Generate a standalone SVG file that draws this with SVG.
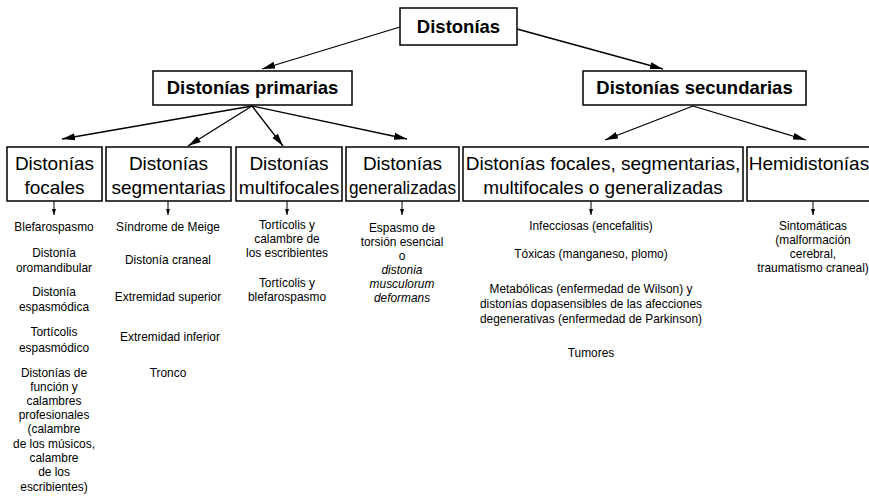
<svg xmlns="http://www.w3.org/2000/svg" width="869" height="500" viewBox="0 0 869 500">
<defs>
<marker id="ah" markerUnits="userSpaceOnUse" markerWidth="14" markerHeight="8" refX="13" refY="4" orient="auto">
<path d="M0,0.5 L13,4 L0,7.5 z" fill="#000"/>
</marker>
<marker id="sh" markerUnits="userSpaceOnUse" markerWidth="6" markerHeight="5" refX="6" refY="2.5" orient="auto">
<path d="M0,0.5 L6,2.5 L0,4.5 z" fill="#000"/>
</marker>
</defs>
<style>
.box{fill:#fff;stroke:#000;stroke-width:1.5}
.t1{font-family:"Liberation Sans",Arial,sans-serif;font-weight:bold;font-size:18.5px;text-anchor:middle;fill:#000}
.t2{font-family:"Liberation Sans",Arial,sans-serif;font-size:19px;text-anchor:middle;fill:#000}
.t3{font-family:"Liberation Sans",Arial,sans-serif;font-size:11.9px;text-anchor:middle;fill:#000}
.it{font-style:italic}
.c{stroke:#000;stroke-width:1.3;fill:none}
.big{marker-end:url(#ah)}
.sm{stroke-width:1;marker-end:url(#sh)}
</style>
<rect width="869" height="500" fill="#fff"/>
<g id="connectors">
<line class="c big" x1="400" y1="27" x2="262" y2="69"/>
<line class="c big" x1="517" y1="29" x2="663" y2="69"/>
<line class="c big" x1="252" y1="106" x2="62" y2="139"/>
<line class="c big" x1="252" y1="106" x2="188" y2="146"/>
<line class="c big" x1="252" y1="106" x2="283" y2="146"/>
<line class="c big" x1="252" y1="106" x2="407" y2="139"/>
<line class="c big" x1="693" y1="106" x2="605" y2="140"/>
<line class="c big" x1="693" y1="106" x2="806" y2="140"/>
<line class="c sm" x1="54" y1="201" x2="54" y2="215"/>
<line class="c sm" x1="168" y1="201" x2="168" y2="215"/>
<line class="c sm" x1="287" y1="201" x2="287" y2="215"/>
<line class="c sm" x1="402" y1="201" x2="402" y2="215"/>
<line class="c sm" x1="591" y1="201" x2="591" y2="215"/>
<line class="c sm" x1="813" y1="201" x2="813" y2="215"/>
</g>
<g id="root">
<rect class="box" x="400" y="8" width="117" height="37"/>
<text class="t1" x="458.5" y="33">Distonías</text>
</g>
<g id="primarias">
<rect class="box" x="153" y="71" width="199" height="34"/>
<text class="t1" x="252.5" y="94">Distonías primarias</text>
</g>
<g id="secundarias">
<rect class="box" x="583" y="71" width="223" height="34"/>
<text class="t1" x="694.5" y="94">Distonías secundarias</text>
</g>
<g id="focales">
<rect class="box" x="7" y="147" width="95" height="54"/>
<text class="t2" x="54.5" y="170">Distonías</text>
<text class="t2" x="54.5" y="194">focales</text>
<text class="t3" x="54" y="231">Blefarospasmo</text>
<text class="t3" x="54" y="257">Distonía</text>
<text class="t3" x="54" y="272">oromandibular</text>
<text class="t3" x="54" y="296">Distonía</text>
<text class="t3" x="54" y="311">espasmódica</text>
<text class="t3" x="54" y="336">Tortícolis</text>
<text class="t3" x="54" y="352">espasmódico</text>
<text class="t3" x="54" y="377">Distonías de</text>
<text class="t3" x="54" y="391">función y</text>
<text class="t3" x="54" y="405">calambres</text>
<text class="t3" x="54" y="419">profesionales</text>
<text class="t3" x="54" y="433">(calambre</text>
<text class="t3" x="54" y="448">de los músicos,</text>
<text class="t3" x="54" y="462">calambre</text>
<text class="t3" x="54" y="476">de los</text>
<text class="t3" x="54" y="491">escribientes)</text>
</g>
<g id="segmentarias">
<rect class="box" x="106" y="147" width="125" height="54"/>
<text class="t2" x="168.5" y="170">Distonías</text>
<text class="t2" x="168.5" y="194">segmentarias</text>
<text class="t3" x="168" y="231">Síndrome de Meige</text>
<text class="t3" x="168" y="264">Distonía craneal</text>
<text class="t3" x="168" y="301">Extremidad superior</text>
<text class="t3" x="170" y="341">Extremidad inferior</text>
<text class="t3" x="168" y="377">Tronco</text>
</g>
<g id="multifocales">
<rect class="box" x="236" y="147" width="106" height="54"/>
<text class="t2" x="289" y="170">Distonías</text>
<text class="t2" x="289" y="194">multifocales</text>
<text class="t3" x="287" y="229">Tortícolis y</text>
<text class="t3" x="287" y="243">calambre de</text>
<text class="t3" x="287" y="257">los escribientes</text>
<text class="t3" x="287" y="287">Tortícolis y</text>
<text class="t3" x="287" y="301">blefarospasmo</text>
</g>
<g id="generalizadas">
<rect class="box" x="346" y="147" width="113" height="54"/>
<text class="t2" x="402.5" y="170">Distonías</text>
<text class="t2" x="402.5" y="194" textLength="107" lengthAdjust="spacingAndGlyphs">generalizadas</text>
<text class="t3" x="402" y="232">Espasmo de</text>
<text class="t3" x="402" y="246">torsión esencial</text>
<text class="t3" x="402" y="260">o</text>
<text class="t3 it" x="402" y="274">distonia</text>
<text class="t3 it" x="402" y="288">musculorum</text>
<text class="t3 it" x="402" y="302">deformans</text>
</g>
<g id="focales-seg">
<rect class="box" x="463" y="147" width="280" height="54"/>
<text class="t2" x="603" y="170">Distonías focales, segmentarias,</text>
<text class="t2" x="603" y="194">multifocales o generalizadas</text>
<text class="t3" x="591" y="230">Infecciosas (encefalitis)</text>
<text class="t3" x="591" y="258">Tóxicas (manganeso, plomo)</text>
<text class="t3" x="591" y="293">Metabólicas (enfermedad de Wilson) y</text>
<text class="t3" x="591" y="308">distonías dopasensibles de las afecciones</text>
<text class="t3" x="591" y="323">degenerativas (enfermedad de Parkinson)</text>
<text class="t3" x="591" y="357">Tumores</text>
</g>
<g id="hemidistonias">
<rect class="box" x="747" y="147" width="130" height="54"/>
<text class="t2" x="809" y="170">Hemidistonías</text>
<text class="t3" x="813" y="230">Sintomáticas</text>
<text class="t3" x="813" y="244">(malformación</text>
<text class="t3" x="813" y="258">cerebral,</text>
<text class="t3" x="813" y="272">traumatismo craneal)</text>
</g>
</svg>
